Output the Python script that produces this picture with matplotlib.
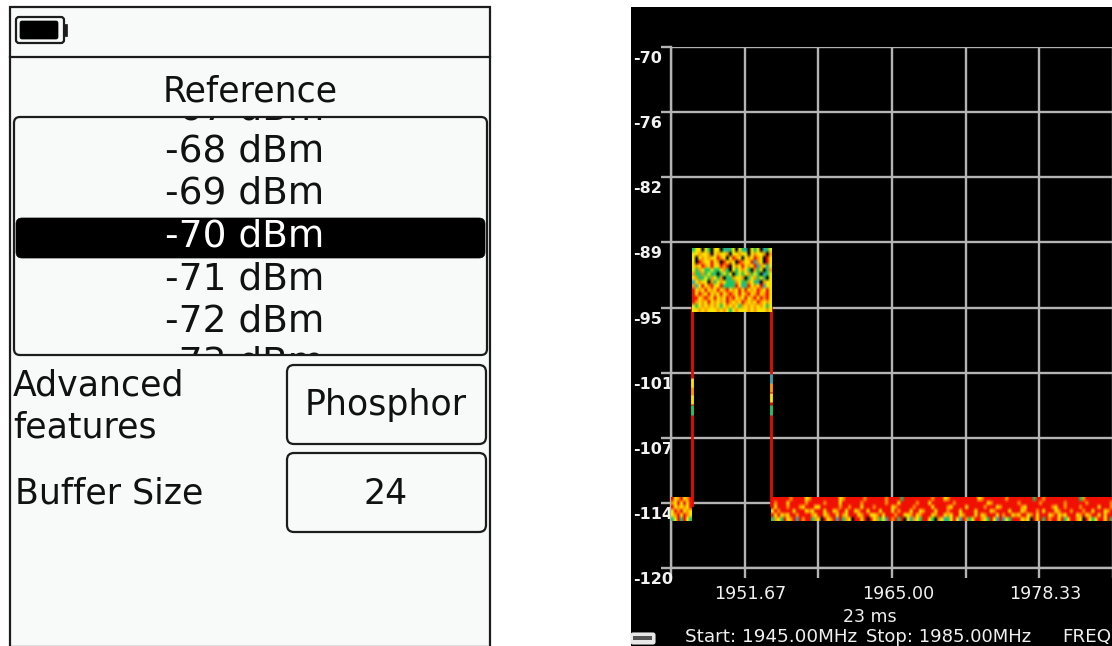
import matplotlib
matplotlib.use("Agg")
import matplotlib.pyplot as plt
import numpy as np
from matplotlib.colors import to_rgb
from matplotlib.patches import FancyBboxPatch, Rectangle
from matplotlib.transforms import Bbox, ScaledTranslation, TransformedBbox

# ---------- data ----------
freq_ticks = [1945 + 20 / 3 * i for i in range(7)]
freq_labels = ["", "1951.67", "", "1965.00", "", "1978.33", ""]
level_ticks = [-120 + 6.25 * i for i in range(9)]
level_labels = ["-120", "-114", "-107", "-101", "-95", "-89", "-82", "-76", "-70"]
trace_freq = [1945.0, 1946.9, 1946.9, 1954.05, 1954.05, 1985.0]
trace_level = [-114.0, -114.0, -95.0, -95.0, -114.0, -114.0]
list_levels = ["-67 dBm", "-68 dBm", "-69 dBm", "-70 dBm", "-71 dBm", "-72 dBm", "-73 dBm"]
selected_level = "-70 dBm"

palette = {"K": "#000000", "R": "#f01000", "O": "#ff9800", "Y": "#f6e600",
           "G": "#20c468", "B": "#2fa6b4"}
carrier_rows = [
    "GYYKYGKYYKGBGYKYGBKYGYKBGY",
    "YYOYYOKYOYYOKYYOYYKYOYYOKO",
    "YKYOYOYYROYKYROYKYOYROYKRY",
    "YKROYYRYOKRYOYKROYYRBOYKRY",
    "YOYROYRYYRORKYOYRYOYRBOYBY",
    "YGOYGGYGGYOGKYGYOYGKOGYKGO",
    "OGGOGYGGKGYGYKGYGYOGYGKBGY",
    "YOGGYGOYGOKGGOYYOKGYOGYGKY",
    "BYOYYKOGYOYGGGOYGGOYGBKOYY",
    "OBYRYORYYRGGGGRYBGRYOYRBYY",
    "RYOYRYOYRYORYOYRYRYOYROYRY",
    "RYROYRYOYRYOROYRYORYORYORY",
    "RRYOROYRYOYRORYOYRYORYRORY",
    "ROYOYRYOYOYROYOYROYOYROYOY",
    "YGYOYOYOYGYOYOYGOYOYOYOYGY",
    "YYOYOYYYOYOYGYOYYYOYOYYYOY",
]
noise_left_rows = [
    "RYORYOR",
    "OYRYRYR",
    "RYOYOYR",
    "YRORYOY",
    "YORYROY",
    "GYRGRYG",
]
noise_right_rows = [
    "RRRRRRORRRRYORRRRRRRRRYORRRRRRORRRRRRORRRRGRRRRRRRRRORRRYORRRRRRRRRYORRRRRRRORRRRRRRRGRRORRRRRRRRRRRGORRRRRRRRR",
    "RORRRYRRRRRORRRRRORRRRYRRRRRRORRRRRRRORRRYRRRRRORRRYRRRRRRRORRRRRRRRRRYORRRRRRRRORRRRRRORRRRRRRORRRRRRORRRRRRRO",
    "RYRRRORRROYRRRYYRRRRRRORRORRRYRRRORRRRRYORRRRRORRRRRYRRRROYRRRRYRRRRRORRRYORRRRRROYRRRRRRRROYRRORRRRORRRRRYRRRO",
    "YRORRRRYRRRYOYRRRYRRYORRYRRYORRYRRRYRRRYRORRRYRRYORRRYRRRORRRYRRRRYRRRRYORRRRYRRRYORRRORYRRRYORRRORRRORRYRRRYOR",
    "RYRYOYRRORRRROYRRYORRYROYRRRYORRYYORYRRRORRYYORYORRRYORRYOYRRYORRRYRYORRRYRORRYOYRRYORYRRRYORYOYRRRYORYORRYRYR",
    "GOYGRYORBRORRGOYKRYORBRGOYKRRYRKRYOGYBRORGRKYBOYGRRYGKOYBGYRYBROGYRROYGRYBRBYGRRRYOYKRYRGRORRYRGYRROYKRYGYRRYRG",
]
left_flare = [(-101.8, "Y"), (-102.6, "O"), (-103.4, "Y"), (-104.4, "G")]
right_flare = [(-101.4, "B"), (-102.2, "O"), (-103.2, "Y"), (-104.4, "G")]

# ---------- helpers ----------
def rows_to_rgb(rows):
    width = max(len(r) for r in rows)
    return np.array([[to_rgb(palette[c]) for c in r.ljust(width, "R")] for r in rows])

W, H = 1112, 646
fig = plt.figure(figsize=(W / 100, H / 100), dpi=100, facecolor="white")
ui = fig.add_axes([0, 0, 1, 1], zorder=0)
ui.set_xlim(0, W)
ui.set_ylim(H, 0)
ui.axis("off")

ink = "#1c1c1c"
panel = "#f7faf8"
font = "DejaVu Sans"

# ---------- left panel ----------
ui.add_patch(Rectangle((10, 7), 480, 640, fc=panel, ec=ink, lw=1.6))
ui.plot([10, 490], [57, 57], color=ink, lw=1.6)

# battery
ui.add_patch(FancyBboxPatch((16, 17), 48, 26, boxstyle="round,pad=0,rounding_size=3",
                            fc=panel, ec=ink, lw=1.6))
ui.add_patch(FancyBboxPatch((20, 21), 38, 18, boxstyle="round,pad=0,rounding_size=2",
                            fc="black", ec="black", lw=0.5))
ui.add_patch(Rectangle((64, 24), 3, 12, fc=ink, ec=ink, lw=0.5))

ui.text(250, 92, "Reference", ha="center", va="center", fontsize=25, color="#111111", family=font)

list_box = FancyBboxPatch((14, 117), 473, 238, boxstyle="round,pad=0,rounding_size=6",
                          fc=panel, ec=ink, lw=1.6)
ui.add_patch(list_box)
bar = FancyBboxPatch((16, 218), 469, 40, boxstyle="round,pad=0,rounding_size=6",
                     fc="black", ec="black", lw=0.5, zorder=3)
ui.add_patch(bar)
window = TransformedBbox(Bbox.from_extents(14 / W, 1 - 354 / H, 487 / W, 1 - 118 / H), fig.transFigure)
for i, lab in enumerate(list_levels):
    sel = lab == selected_level
    t = ui.text(245, 109 + 42.5 * i, lab, ha="center", va="center", fontsize=27,
                color="white" if sel else "#111111", family=font, zorder=4)
    t.set_clip_box(window)
    t.set_clip_on(True)

ui.text(13, 385, "Advanced", ha="left", va="center", fontsize=25, color="#111111", family=font)
ui.text(13, 427, "features", ha="left", va="center", fontsize=25, color="#111111", family=font)
ui.text(15, 493, "Buffer Size", ha="left", va="center", fontsize=25, color="#111111", family=font)

for y0, label, ty in [(365, "Phosphor", 405), (453, "24", 494)]:
    ui.add_patch(FancyBboxPatch((287, y0), 199, 79, boxstyle="round,pad=0,rounding_size=7",
                                fc=panel, ec=ink, lw=1.6))
    ui.text(386, ty, label, ha="center", va="center", fontsize=25, color="#111111", family=font)

# ---------- right panel background ----------
ui.add_patch(Rectangle((631, 7), W - 631, H - 7, fc="black", ec="none"))

# ---------- spectrum ----------
grey = "#b4b4b4"
ax = fig.add_axes([671 / W, 1 - 568 / H, (1113 - 671) / W, (568 - 47) / H], zorder=1)
ax.patch.set_alpha(0)
ax.set_xlim(1945, 1985)
ax.set_ylim(-120, -70)
for s in ["top", "right"]:
    ax.spines[s].set_visible(False)
for s in ["left", "bottom"]:
    ax.spines[s].set_color(grey)
    ax.spines[s].set_linewidth(1.7)
ax.set_xticks(freq_ticks, freq_labels)
ax.set_yticks(level_ticks, level_labels)
ax.grid(True, color=grey, lw=1.7, zorder=1)
ax.set_axisbelow(True)
ax.tick_params(axis="both", color=grey, width=1.7, length=7.5)
ax.tick_params(axis="x", labelsize=12.6, labelcolor="#f2f2f2", pad=5)
ax.tick_params(axis="y", labelsize=11.5, labelcolor="#f2f2f2", pad=20)
for lab in ax.get_xticklabels():
    lab.set_transform(lab.get_transform() + ScaledTranslation(6 / 100, 0, fig.dpi_scale_trans))
for lab in ax.get_yticklabels():
    lab.set_ha("left")
    lab.set_fontweight("bold")
    lab.set_transform(lab.get_transform() + ScaledTranslation(0, -10 / 100, fig.dpi_scale_trans))

ax.plot(trace_freq, trace_level, color="#e01000", lw=2.0, zorder=3, solid_joinstyle="miter")

for rows, ext in [(carrier_rows, (1946.9, 1954.05, -95.43, -89.3)),
                  (noise_left_rows, (1945.0, 1946.9, -115.49, -113.28)),
                  (noise_right_rows, (1954.05, 1985.0, -115.49, -113.28))]:
    ax.imshow(rows_to_rgb(rows), extent=ext, origin="upper", aspect="auto",
              interpolation="bilinear", zorder=4)
ax.set_xlim(1945, 1985)
ax.set_ylim(-120, -70)

for fq, flare in [(1946.9, left_flare), (1954.05, right_flare)]:
    for lvl, c in flare:
        ax.plot([fq, fq], [lvl, lvl - 0.9], color=palette[c], lw=2.0, zorder=5,
                solid_capstyle="butt")

# ---------- status text ----------
txt = "#f0f0f0"
ui.text(870, 617, "23 ms", ha="center", va="center", fontsize=12.5, color=txt, family=font, zorder=6)
ui.text(685, 637, "Start: 1945.00MHz", ha="left", va="center", fontsize=13.2, color=txt, family=font, zorder=6)
ui.text(866, 637, "Stop: 1985.00MHz", ha="left", va="center", fontsize=13.0, color=txt, family=font, zorder=6)
ui.text(1062, 637, "FREQ", ha="left", va="center", fontsize=13.2, color=txt, family=font, zorder=6, clip_on=True)

ui.add_patch(FancyBboxPatch((631, 633), 24, 11, boxstyle="round,pad=0,rounding_size=2",
                            fc="#e8e8e8", ec="#e8e8e8", lw=0.8, zorder=6))
ui.add_patch(Rectangle((633, 636), 19, 4, fc="#555555", ec="none", zorder=7))

fig.savefig("out.png", dpi=100, facecolor="white")
